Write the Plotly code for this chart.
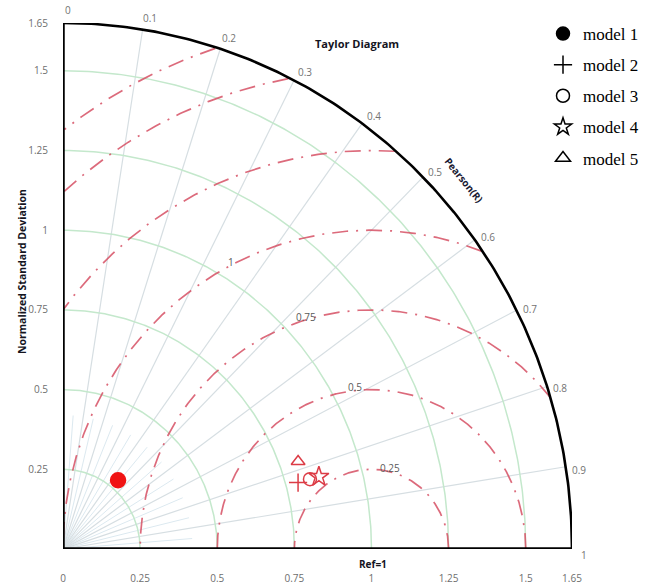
import numpy as np
import plotly.graph_objects as go

# ---------------- data ----------------
models = ["model 1", "model 2", "model 3", "model 4", "model 5"]
std_norm = [0.28, 0.79, 0.83, 0.86, 0.81]      # normalized standard deviation
corr = [0.44, 0.83, 0.83, 0.83, 0.78]          # Pearson R
symbols = ["circle", "cross-thin-open", "circle-open", "star-open", "triangle-up-open"]

x_tick_vals = [0, 0.25, 0.5, 0.75, 1, 1.25, 1.5, 1.65]
x_tick_text = ["0", "0.25", "0.5", "0.75", "1", "1.25", "1.5", "1.65"]
y_tick_vals = [0.25, 0.5, 0.75, 1, 1.25, 1.5, 1.65]
y_tick_text = ["0.25", "0.5", "0.75", "1", "1.25", "1.5", "1.65"]
std_arcs = [0.25, 0.5, 0.75, 1.0, 1.25, 1.5]
corr_ticks = [0, 0.1, 0.2, 0.3, 0.4, 0.5, 0.6, 0.7, 0.8, 0.9, 1]
corr_minor = [0.05, 0.15, 0.25, 0.35, 0.45, 0.55, 0.65, 0.75, 0.85, 0.95]
rms_levels = [0.25, 0.5, 0.75, 1.0, 1.25, 1.5, 1.65]
rms_label_levels = [0.25, 0.5, 0.75, 1.0]
rms_label_text = ["0.25", "0.5", "0.75", "1"]
ref_std = 1.0
max_std = 1.65

# ---------------- geometry ----------------
W, H = 650, 586
ML, MR, MT, MB = 63, 78, 23, 37
PW, PH = W - ML - MR, H - MT - MB


def px(xp, yp):
    return (xp - ML) / PW, (H - MB - yp) / PH


def theta(r):
    # angle from x-axis (radians), linear correlation scale: R=1 -> 0deg, R=0 -> 90deg
    return np.deg2rad((1 - np.asarray(r, dtype=float)) * 90.0)


fig = go.Figure()

RED_GRID = "rgba(214,80,100,0.85)"
GREEN = "rgb(196,232,204)"
GRAY_RAD = "rgb(214,222,226)"
GRAY_MINOR = "rgb(220,233,240)"

# minor radial lines near origin
for r in corr_minor:
    t = theta(r)
    fig.add_trace(go.Scatter(x=[0, 0.42 * np.cos(t)], y=[0, 0.42 * np.sin(t)], mode="lines",
                             line=dict(color=GRAY_MINOR, width=1), hoverinfo="skip", showlegend=False))

# radial correlation lines
for r in corr_ticks[1:-1]:
    t = theta(r)
    fig.add_trace(go.Scatter(x=[0, max_std * np.cos(t)], y=[0, max_std * np.sin(t)], mode="lines",
                             line=dict(color=GRAY_RAD, width=1.2), hoverinfo="skip", showlegend=False))

# std arcs
tt = np.linspace(0, np.pi / 2, 200)
for s in std_arcs:
    fig.add_trace(go.Scatter(x=s * np.cos(tt), y=s * np.sin(tt), mode="lines",
                             line=dict(color=GREEN, width=1.5), hoverinfo="skip", showlegend=False))

# RMS circles around reference
tc = np.linspace(0, np.pi, 600)
for rr in rms_levels:
    xs = ref_std + rr * np.cos(tc)
    ys = rr * np.sin(tc)
    mask = (xs < 0) | (xs ** 2 + ys ** 2 > max_std ** 2 + 1e-9)
    xs = np.where(mask, np.nan, xs)
    ys = np.where(mask, np.nan, ys)
    fig.add_trace(go.Scatter(x=xs, y=ys, mode="lines",
                             line=dict(color=RED_GRID, width=1.7, dash="16px,8px,2px,8px"),
                             hoverinfo="skip", showlegend=False, connectgaps=False))

# outer arc
fig.add_trace(go.Scatter(x=max_std * np.cos(tt), y=max_std * np.sin(tt), mode="lines",
                         line=dict(color="black", width=2.6), hoverinfo="skip", showlegend=False))

# model points
sizes = [15, 13, 13, 15, 12]
for i, m in enumerate(models):
    t = theta(corr[i])
    col = "rgb(240,20,20)" if i == 0 else "rgb(220,60,70)"
    fig.add_trace(go.Scatter(x=[std_norm[i] * np.cos(t)], y=[std_norm[i] * np.sin(t)], mode="markers",
                             marker=dict(symbol=symbols[i], size=sizes[i], color=col,
                                         line=dict(color=col, width=1.5)),
                             showlegend=False, hoverinfo="skip"))

# legend entries (black symbols)
for i, m in enumerate(models):
    fig.add_trace(go.Scatter(x=[None], y=[None], mode="markers", name=m, legendgroup=m,
                             marker=dict(symbol=symbols[i], size=13, color="black",
                                         line=dict(color="black", width=1.5))))

annotations = []
# correlation labels (paper coords so they are not clipped)
for r in corr_ticks:
    t = np.deg2rad((1 - r) * 90.0 - 0.6)
    annotations.append(dict(x=1.69 * np.cos(t) / max_std, y=1.69 * np.sin(t) / max_std,
                            xref="paper", yref="paper", xanchor="center", yanchor="middle",
                            text=f"{r:g}", showarrow=False,
                            font=dict(size=10, color="rgb(115,115,115)", family="Open Sans")))

# RMS labels
rms_label_angles = [76, 96, 106.5, 117]
for lev, txt, ang in zip(rms_label_levels, rms_label_text, rms_label_angles):
    a = np.deg2rad(ang)
    annotations.append(dict(x=ref_std + lev * np.cos(a), y=lev * np.sin(a) + 0.01, xref="x", yref="y",
                            xanchor="center", yanchor="middle",
                            text=txt, showarrow=False,
                            font=dict(size=10, color="rgb(90,90,90)", family="Open Sans")))


def ann_px(xp, yp, text, size, angle=0, color="rgb(20,20,30)", bold=True):
    x, y = px(xp, yp)
    return dict(x=x, y=y, xref="paper", yref="paper", xanchor="center", yanchor="middle",
                text=f"<b>{text}</b>" if bold else text,
                showarrow=False, textangle=angle, font=dict(size=size, color=color, family="Open Sans"))


annotations.append(ann_px(357, 43, "Taylor Diagram", 11))
annotations.append(ann_px(464, 180, "Pearson(R)", 10, angle=51, color="rgb(25,25,50)"))
annotations.append(ann_px(22, 272, "Normalized Standard Deviation", 10.5, angle=-90))
annotations.append(ann_px(373, 564, "Ref=1", 10))

shapes = [
    dict(type="line", xref="x", yref="y", x0=0, y0=0, x1=max_std, y1=0, line=dict(color="black", width=3.5)),
    dict(type="line", xref="x", yref="y", x0=0, y0=0, x1=0, y1=max_std, line=dict(color="black", width=3.5)),
]

fig.update_layout(
    width=W, height=H,
    margin=dict(l=ML, r=MR, t=MT, b=MB, autoexpand=False),
    paper_bgcolor="white", plot_bgcolor="white",
    hovermode=False,
    xaxis=dict(range=[0, max_std], showgrid=False, zeroline=False, showline=False, automargin=False,
               tickvals=x_tick_vals, ticktext=x_tick_text, ticks="outside", ticklen=20,
               tickcolor="rgba(0,0,0,0)", tickfont=dict(size=10, color="rgb(110,110,110)", family="Open Sans")),
    yaxis=dict(range=[0, max_std], showgrid=False, zeroline=False, showline=False, automargin=False,
               tickvals=y_tick_vals, ticktext=y_tick_text, ticks="outside", ticklen=12,
               tickcolor="rgba(0,0,0,0)", tickfont=dict(size=10, color="rgb(110,110,110)", family="Open Sans")),
    legend=dict(x=px(543, 0)[0], y=px(0, 16)[1], xanchor="left", yanchor="top",
                font=dict(size=17, color="black", family="Liberation Serif"),
                tracegroupgap=6, itemwidth=30, bgcolor="rgba(0,0,0,0)"),
    annotations=annotations,
    shapes=shapes,
)

fig.write_html("out.html")
